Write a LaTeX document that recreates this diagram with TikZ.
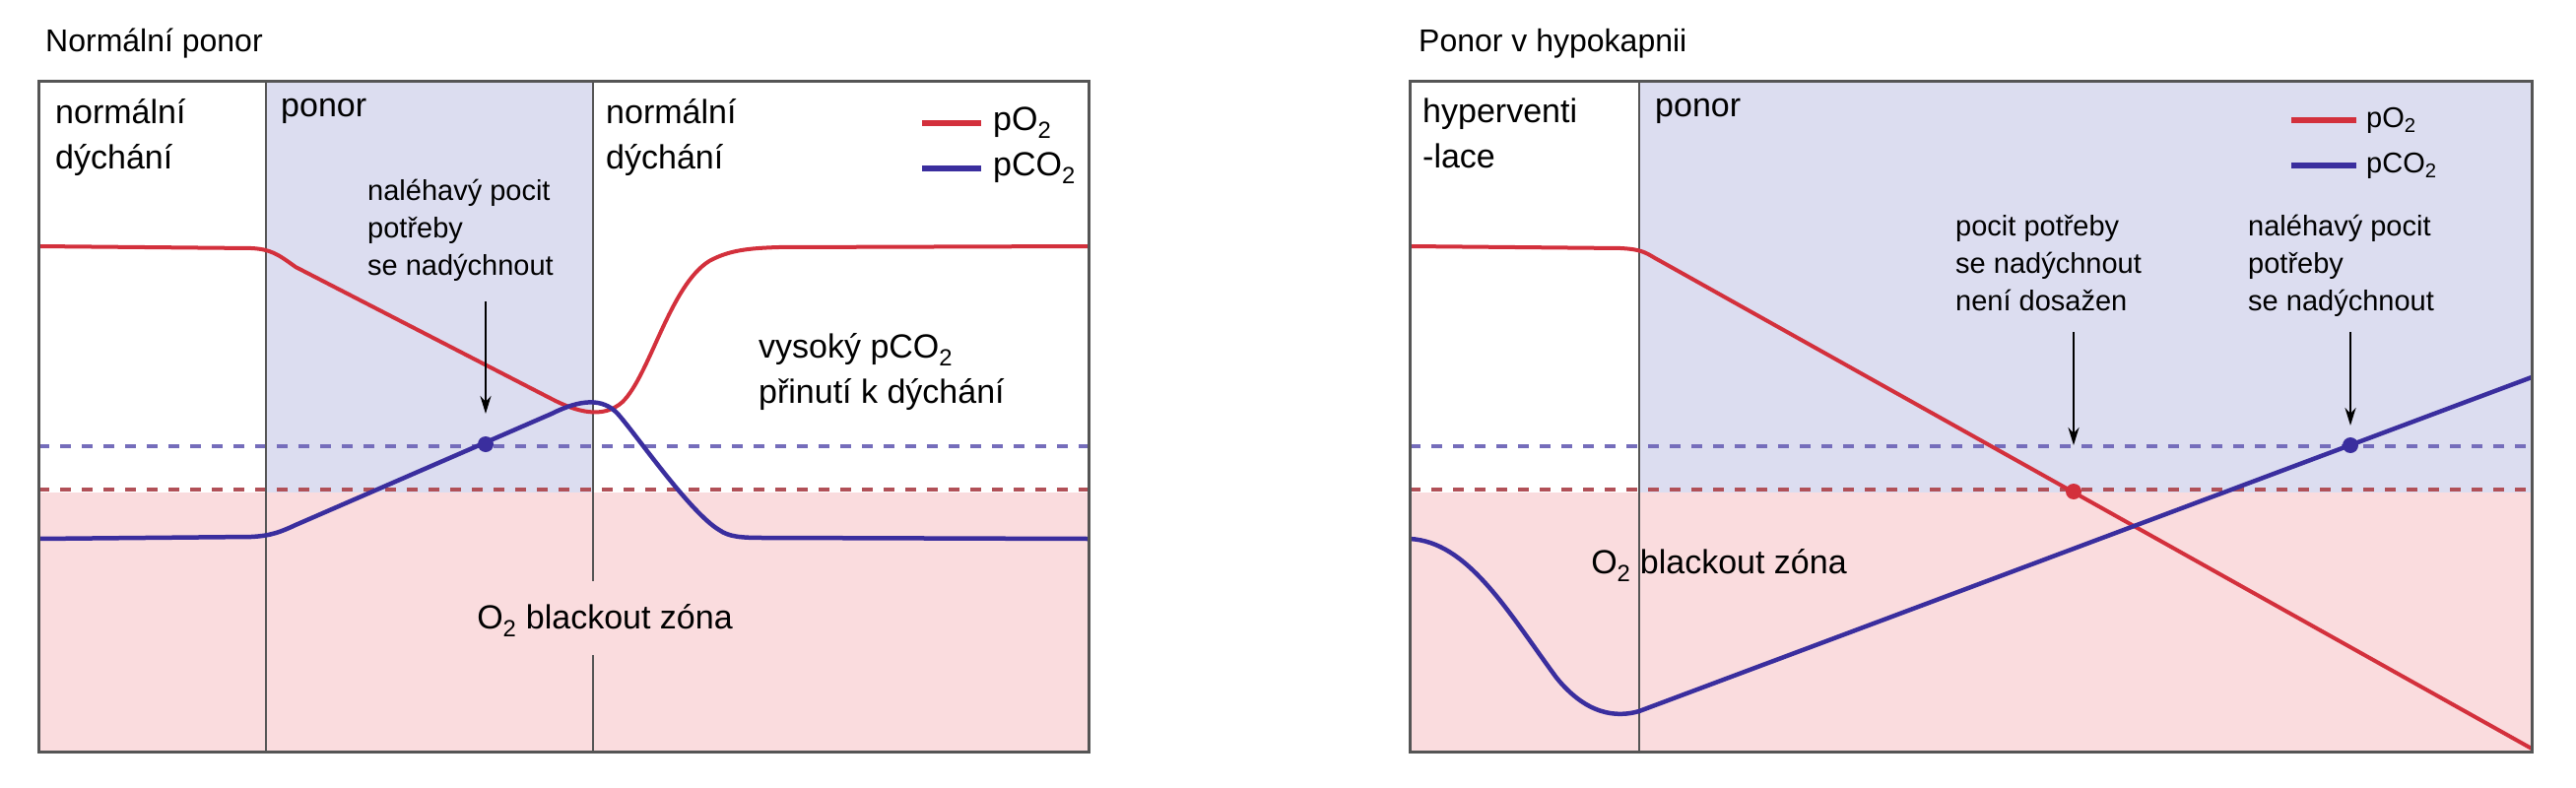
\documentclass[tikz,border=0pt]{standalone}
\usepackage{fontspec}
\setmainfont{Liberation Sans}
\usetikzlibrary{positioning,arrows.meta}

\definecolor{otwo}{HTML}{D3303C}
\definecolor{cotwo}{HTML}{3A2E9E}
\definecolor{zoneblue}{HTML}{DCDDF0}
\definecolor{zonepink}{HTML}{FADCDE}
\definecolor{framegray}{HTML}{555555}

\tikzset{
  lbl/.style={anchor=north west,inner sep=0pt,align=left,font=\fontsize{34}{46}\selectfont},
  note/.style={anchor=north west,inner sep=0pt,align=left,font=\fontsize{29}{38}\selectfont},
  ttl/.style={anchor=west,inner sep=0pt,font=\fontsize{32}{38}\selectfont},
  otwoline/.style={otwo,line width=4pt},
  cotwoline/.style={cotwo,line width=4.5pt},
  limit/.style={line width=4pt,dash pattern=on 11pt off 11pt},
  divider/.style={framegray,line width=2pt},
  pointer/.style={-{Stealth[length=18pt,width=11pt]},line width=2.5pt},
  dot/.style={circle,inner sep=0pt,minimum size=16pt}
}

\begin{document}
\begin{tikzpicture}[x=1pt,y=-1pt]
\useasboundingbox (0,0) rectangle (2615,800);

% left panel: normal dive
\fill[zonepink] (39,500) rectangle (1105,763);
\fill[zoneblue] (270,82) rectangle (602,500);
\draw[limit,cotwo!70] (39,453) -- (1105,453);
\draw[limit,otwo!60!gray] (39,497) -- (1105,497);
\draw[divider] (270,82) -- (270,763);
\draw[divider] (602,82) -- (602,590) (602,665) -- (602,763);

\draw[otwoline] (39,250) -- (255,252) .. controls (275,253) and (282,258) .. (300,271)
  -- (560,405) .. controls (585,418) and (612,426) .. (632,408)
  .. controls (660,380) and (680,290) .. (720,265)
  .. controls (740,254) and (760,252) .. (790,251) -- (1105,250);
\draw[cotwoline] (39,547) -- (255,545) .. controls (275,544) and (285,540) .. (300,533)
  -- (560,420) .. controls (590,405) and (612,404) .. (627,420)
  .. controls (645,440) and (700,520) .. (730,538)
  .. controls (740,545) and (752,546) .. (775,546) -- (1105,547);

\node[dot,fill=cotwo] (urgeA) at (493,451) {};
\coordinate (tipA) at (493,420);

\node[ttl] (titleA) at (46,44) {Normální ponor};
\node[lbl] (breathA) at (56,100) {normální\\dýchání};
\node[lbl] (diveA) at (285,100) {ponor};
\node[lbl] (breathB) at (615,100) {normální\\dýchání};
\node[note] (urgeAtxt) at (373,182) {naléhavý pocit\\potřeby\\se nadýchnout};
\node[lbl] (highco) at (770,338) {vysoký pCO\textsubscript{2}\\přinutí k dýchání};
\node[lbl,anchor=center] (zoneA) at (614,630) {O\textsubscript{2} blackout zóna};
\draw[pointer] (493,306) -- (tipA);

\coordinate (legA1) at (936,125);
\coordinate (legA2) at (996,125);
\coordinate (legA3) at (936,171);
\coordinate (legA4) at (996,171);
\draw[otwoline,line width=6pt] (legA1) -- (legA2);
\draw[cotwoline,line width=6pt] (legA3) -- (legA4);
\node[lbl,anchor=west] (legAo) at (1008,125) {pO\textsubscript{2}};
\node[lbl,anchor=west] (legAc) at (1008,171) {pCO\textsubscript{2}};

\draw[framegray,line width=3pt] (39,82) rectangle (1105,763);

% right panel: dive in hypocapnia
\fill[zonepink] (1431,500) rectangle (2570,763);
\fill[zoneblue] (1664,82) rectangle (2570,500);
\draw[limit,cotwo!70] (1431,453) -- (2570,453);
\draw[limit,otwo!60!gray] (1431,497) -- (2570,497);
\draw[divider] (1664,82) -- (1664,763);

\draw[otwoline] (1431,250) -- (1645,252) .. controls (1665,253) and (1670,256) .. (1680,262) -- (2570,760);
\draw[cotwoline] (1431,547) .. controls (1490,550) and (1530,620) .. (1580,688)
  .. controls (1610,725) and (1640,729) .. (1664,722) -- (2570,383);

\node[dot,fill=otwo] (urgeB) at (2105,499) {};
\node[dot,fill=cotwo] (urgeC) at (2386,452) {};
\coordinate (tipB) at (2105,452);
\coordinate (tipC) at (2386,432);

\node[ttl] (titleB) at (1440,44) {Ponor v hypokapnii};
\node[lbl] (hyper) at (1444,100) {hyperventi\\-lace};
\node[lbl] (diveB) at (1680,100) {ponor};
\node[note] (urgeBtxt) at (1985,218) {pocit potřeby\\se nadýchnout\\není dosažen};
\node[note] (urgeCtxt) at (2282,218) {naléhavý pocit\\potřeby\\se nadýchnout};
\node[lbl,anchor=center] (zoneB) at (1745,574) {O\textsubscript{2} blackout zóna};
\draw[pointer] (2105,337) -- (tipB);
\draw[pointer] (2386,337) -- (tipC);

\coordinate (legB1) at (2326,122);
\coordinate (legB2) at (2392,122);
\coordinate (legB3) at (2326,168);
\coordinate (legB4) at (2392,168);
\draw[otwoline,line width=6pt] (legB1) -- (legB2);
\draw[cotwoline,line width=6pt] (legB3) -- (legB4);
\node[note,anchor=west] (legBo) at (2402,122) {pO\textsubscript{2}};
\node[note,anchor=west] (legBc) at (2402,168) {pCO\textsubscript{2}};

\draw[framegray,line width=3pt] (1431,82) rectangle (2570,763);
\end{tikzpicture}
\end{document}
